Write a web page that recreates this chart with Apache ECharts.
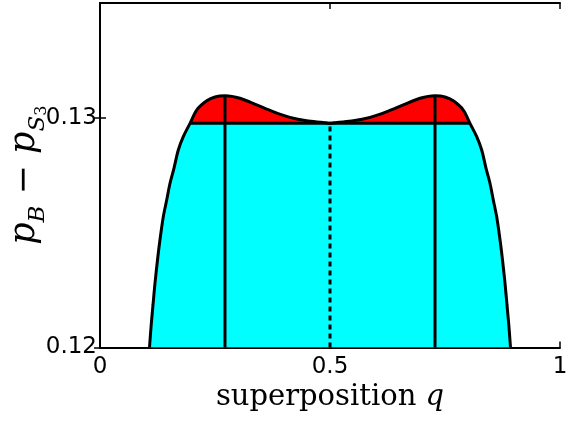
<!DOCTYPE html>
<html>
<head>
<meta charset="utf-8">
<script src="https://cdn.jsdelivr.net/npm/echarts@6/dist/echarts.min.js"></script>
<style>html,body{margin:0;padding:0;background:#fff}#c{width:574px;height:421px}</style>
</head>
<body>
<div id="c"></div>
<script>
// superposition q
const qValues = [0.1076, 0.1113, 0.1152, 0.1196, 0.1250, 0.1304, 0.1376, 0.1450, 0.1522, 0.1609, 0.1702, 0.1811,
  0.1957, 0.2102, 0.2320, 0.2500, 0.2717, 0.3043, 0.3407, 0.3761, 0.4130, 0.4493, 0.4848, 0.5000,
  0.5152, 0.5507, 0.5870, 0.6239, 0.6593, 0.6957, 0.7283, 0.7500, 0.7680, 0.7898, 0.8043,
  0.8189, 0.8298, 0.8391, 0.8478, 0.8550, 0.8624, 0.8696, 0.8750, 0.8804, 0.8848, 0.8887, 0.8924];
// p_B - p_S3
const pValues = [0.12000, 0.12098, 0.12185, 0.12281, 0.12381, 0.12469, 0.12569, 0.12642, 0.12715, 0.12781, 0.12860, 0.12918,
  0.12976, 0.13034, 0.13074, 0.13091, 0.13096, 0.13085, 0.13056, 0.13027, 0.13002, 0.12987, 0.12980, 0.12976,
  0.12980, 0.12987, 0.13002, 0.13027, 0.13056, 0.13085, 0.13096, 0.13091, 0.13074, 0.13034, 0.12976,
  0.12918, 0.12860, 0.12781, 0.12715, 0.12642, 0.12569, 0.12469, 0.12381, 0.12281, 0.12185, 0.12098, 0.12000];
const levelValue = 0.12976;
const levelQ = [0.1957, 0.8043];
const peakQ = [0.2717, 0.7283];
const peakValue = 0.13096;
const midQ = 0.5;
const xTicks = [0, 0.5, 1];
const yTicks = [0.12, 0.13];
const xRange = [0, 1];
const yRange = [0.12, 0.135];

const curve = qValues.map((q, i) => [q, pValues[i]]);
const lower = qValues.map((q, i) => [q, Math.min(pValues[i], levelValue)]);

const chart = echarts.init(document.getElementById('c'), null, {renderer: 'canvas'});
const tickFont = {fontFamily: 'DejaVu Sans', fontSize: 23, color: '#000'};
const axisLine = {show: true, lineStyle: {color: '#000', width: 2}};
const tickIn = {show: true, inside: true, length: 6, lineStyle: {color: '#000', width: 1.5}};
const SM = 0.3;

chart.setOption({
  animation: false,
  backgroundColor: '#fff',
  grid: {left: 100, top: 3, width: 460, height: 344.5, containLabel: false, outerBoundsMode: 'none'},
  xAxis: [
    {type: 'value', min: xRange[0], max: xRange[1], position: 'bottom',
     axisLine, axisTick: Object.assign({customValues: xTicks}, tickIn), splitLine: {show: false},
     axisLabel: Object.assign({customValues: xTicks, margin: 8, formatter: v => String(v)}, tickFont),
     name: '{r|superposition }{q|q}', nameLocation: 'middle', nameGap: 35, nameMoveOverlap: false,
     nameTextStyle: {rich: {
       r: {fontFamily: 'DejaVu Serif', fontSize: 29, color: '#000'},
       q: {fontFamily: 'DejaVu Serif', fontStyle: 'italic', fontSize: 29, color: '#000'}
     }}},
    {type: 'value', min: xRange[0], max: xRange[1], position: 'top',
     axisLine, axisTick: Object.assign({customValues: xTicks}, tickIn), splitLine: {show: false},
     axisLabel: {show: false}}
  ],
  yAxis: [
    {type: 'value', min: yRange[0], max: yRange[1], position: 'left',
     axisLine, axisTick: Object.assign({customValues: yTicks}, tickIn), splitLine: {show: false},
     axisLabel: Object.assign({customValues: yTicks, margin: 3, formatter: v => v.toFixed(2)}, tickFont),
     name: '{i|p}{s|B}{m| − }{i|p}{s|S}{t|3}', nameLocation: 'middle', nameRotate: 90, nameGap: 50,
     nameMoveOverlap: false,
     nameTextStyle: {rich: {
       i: {fontFamily: 'DejaVu Serif', fontStyle: 'italic', fontSize: 35, lineHeight: 50, verticalAlign: 'middle', color: '#000'},
       m: {fontFamily: 'DejaVu Serif', fontSize: 35, lineHeight: 50, verticalAlign: 'middle', color: '#000'},
       s: {fontFamily: 'DejaVu Serif', fontStyle: 'italic', fontSize: 23, lineHeight: 22, verticalAlign: 'bottom', color: '#000'},
       t: {fontFamily: 'DejaVu Serif', fontSize: 16, lineHeight: 12, verticalAlign: 'bottom', color: '#000'}
     }}},
    {type: 'value', min: yRange[0], max: yRange[1], position: 'right',
     axisLine, axisTick: Object.assign({customValues: yTicks}, tickIn), splitLine: {show: false},
     axisLabel: {show: false}}
  ],
  series: [
    {type: 'line', data: curve, symbol: 'none', smooth: SM, lineStyle: {width: 0}, z: 2,
     areaStyle: {color: '#ff0000', opacity: 1, origin: 'start'}},
    {type: 'line', data: lower, symbol: 'none', smooth: SM, lineStyle: {width: 0}, z: 3,
     areaStyle: {color: '#00ffff', opacity: 1, origin: 'start'}},
    {type: 'line', data: [[levelQ[0], levelValue], [levelQ[1], levelValue]], symbol: 'none', z: 4,
     lineStyle: {color: '#000', width: 3}},
    {type: 'line', data: [[peakQ[0], yRange[0]], [peakQ[0], peakValue]], symbol: 'none', z: 4,
     lineStyle: {color: '#000', width: 3}},
    {type: 'line', data: [[peakQ[1], yRange[0]], [peakQ[1], peakValue]], symbol: 'none', z: 4,
     lineStyle: {color: '#000', width: 3}},
    {type: 'line', data: [[midQ, yRange[0]], [midQ, levelValue]], symbol: 'none', z: 4,
     lineStyle: {color: '#000', width: 3, type: [5, 4]}},
    {type: 'line', data: curve, symbol: 'none', smooth: SM, z: 5,
     lineStyle: {color: '#000', width: 3}}
  ]
});
</script>
</body>
</html>
